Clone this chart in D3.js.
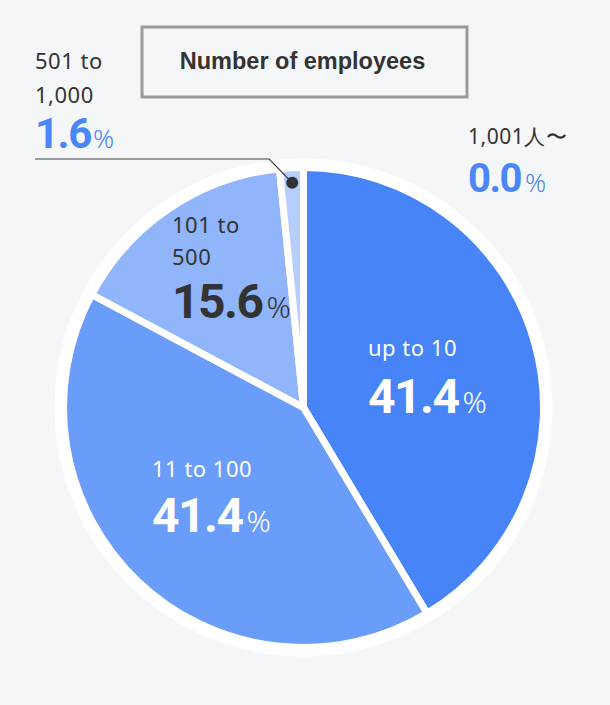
<!DOCTYPE html>
<html>
<head>
<meta charset="utf-8">
<script src="https://cdn.jsdelivr.net/npm/d3@7"></script>
<style>
  html, body { margin: 0; padding: 0; background: #f5f6f8; }
  svg { display: block; }
</style>
</head>
<body>
<svg id="chart" width="610" height="705"></svg>
<script>
// ---- data ----
const title = "Number of employees";
const categories = ["up to 10", "11 to 100", "101 to 500", "501 to 1,000", "1,001人〜"];
const labelLines = [["up to 10"], ["11 to 100"], ["101 to", "500"], ["501 to", "1,000"], ["1,001人〜"]];
const values = [41.4, 41.4, 15.6, 1.6, 0.0];
const colors = ["#4684f8", "#6a9cf9", "#90b5fa", "#b6cefc", "#d6e4fd"];

// ---- layout (positions/styles only) ----
const W = 610, H = 705;
const cx = 303.5, cy = 407.5, R = 240, ringR = 249;
const labelLayout = [
  {x: 368, y: 356, step: 0, vy: 413, tc: "#ffffff", vc: "#ffffff", ls: 22, vs: 48, ps: 30, pdx: 4},
  {x: 152, y: 477, step: 0, vy: 532, tc: "#ffffff", vc: "#ffffff", ls: 22, vs: 48, ps: 30, pdx: 4},
  {x: 172, y: 233, step: 32, vy: 318, tc: "#333333", vc: "#333333", ls: 22, vs: 48, ps: 30, pdx: 4},
  {x: 35, y: 69, step: 34, vy: 148, tc: "#333333", vc: "#4a86f7", ls: 22, vs: 42, ps: 26, pdx: 2},
  {x: 468, y: 144, step: 0, vy: 192, tc: "#333333", vc: "#4a86f7", ls: 21, vs: 40, ps: 26, pdx: 4}
];

const svg = d3.select("#chart");
svg.append("rect").attr("width", W).attr("height", H).attr("fill", "#f5f6f8");

// title box
svg.append("rect")
  .attr("x", 142).attr("y", 27).attr("width", 325).attr("height", 70)
  .attr("fill", "#f5f6f8").attr("stroke", "#9b9b9b").attr("stroke-width", 3);
svg.append("text")
  .attr("x", 302.5).attr("y", 69)
  .attr("text-anchor", "middle")
  .attr("font-family", "Liberation Sans, Arial, sans-serif")
  .attr("font-weight", 700).attr("font-size", 23.5)
  .attr("fill", "#333333")
  .text(title);

const g = svg.append("g").attr("transform", `translate(${cx},${cy})`);

// white ring behind
g.append("circle").attr("r", ringR).attr("fill", "#ffffff");

const pie = d3.pie().sort(null).value(d => d);
const arcs = pie(values);
const arc = d3.arc().innerRadius(0).outerRadius(R);

g.selectAll("path.slice")
  .data(arcs)
  .join("path")
  .attr("class", "slice")
  .attr("d", arc)
  .attr("fill", (d, i) => colors[i])
  .attr("stroke", "#ffffff")
  .attr("stroke-width", 7)
  .attr("stroke-linejoin", "miter");

// leader line + dot for the thin slice
const dotArc = d3.arc().innerRadius(225).outerRadius(225);
const dp = dotArc.centroid(arcs[3]);
const dotX = cx + dp[0], dotY = cy + dp[1];
const lineY = 159;
svg.append("polyline")
  .attr("points", `${labelLayout[3].x},${lineY} ${dotX - 23},${lineY} ${dotX},${dotY}`)
  .attr("fill", "none").attr("stroke", "#444444").attr("stroke-width", 1.2);
svg.append("circle").attr("cx", dotX).attr("cy", dotY).attr("r", 6).attr("fill", "#333333");

// labels
const fmt = d3.format(".1f");
labelLayout.forEach((L, i) => {
  labelLines[i].forEach((line, j) => {
    svg.append("text")
      .attr("x", L.x).attr("y", L.y + j * L.step)
      .attr("font-family", "Noto Sans, sans-serif")
      .attr("font-size", L.ls)
      .attr("letter-spacing", 0.5)
      .attr("fill", L.tc)
      .text(line);
  });
  const t = svg.append("text")
    .attr("x", L.x).attr("y", L.vy)
    .attr("fill", L.vc);
  t.append("tspan")
    .attr("font-family", "Roboto, sans-serif")
    .attr("font-weight", 700)
    .attr("font-size", L.vs)
    .attr("letter-spacing", -1.5)
    .text(fmt(values[i]));
  t.append("tspan")
    .attr("dx", L.pdx)
    .attr("font-family", "Noto Sans, sans-serif")
    .attr("font-weight", 300)
    .attr("font-size", L.ps)
    .text("%");
});
</script>
</body>
</html>
